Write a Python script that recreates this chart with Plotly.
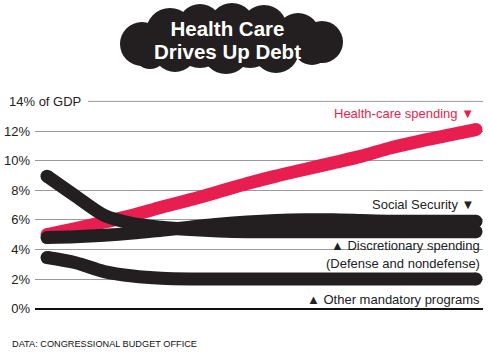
import plotly.graph_objects as go

# ---- data (share of GDP, %) ----
years = [2010, 2015, 2020, 2025, 2030, 2035, 2040, 2045, 2050, 2055,
         2060, 2065, 2070, 2075, 2080, 2085]
health_care = [5.0, 5.4, 5.85, 6.3, 6.85, 7.35, 7.9, 8.45, 8.95, 9.4,
               9.85, 10.3, 10.85, 11.3, 11.7, 12.1]
social_security = [4.8, 4.85, 4.95, 5.1, 5.3, 5.5, 5.7, 5.85, 5.95, 6.0,
                   6.0, 5.95, 5.9, 5.9, 5.9, 5.9]
discretionary = [8.95, 7.6, 6.3, 5.75, 5.5, 5.35, 5.25, 5.2, 5.2, 5.2,
                 5.2, 5.2, 5.2, 5.2, 5.2, 5.2]
other_mandatory = [3.45, 3.1, 2.5, 2.2, 2.05, 2.0, 2.0, 2.0, 2.0, 2.0,
                   2.0, 2.0, 2.0, 2.0, 2.0, 2.0]
y_ticks = [0, 2, 4, 6, 8, 10, 12]
y_tick_labels = ["0%", "2%", "4%", "6%", "8%", "10%", "12%"]

RED = "#e81e50"
BLACK = "#231f20"
FONT = "Liberation Sans, Arial, sans-serif"

W, H = 488, 362
L, R, T, B = 35, 5, 94, 46
PW, PH = W - L - R, H - T - B


def fx(px):
    return (px - L) / PW


def fy(py):
    return (H - B - py) / PH


fig = go.Figure()
LW = 13
series = [
    (health_care, RED),
    (social_security, BLACK),
    (discretionary, BLACK),
    (other_mandatory, BLACK),
]
for vals, col in series:
    fig.add_trace(go.Scatter(
        x=years, y=vals, mode="lines",
        line=dict(color=col, width=LW, shape="spline", smoothing=0.8),
        hoverinfo="skip", showlegend=False,
    ))
    # round end caps
    fig.add_trace(go.Scatter(
        x=[years[0], years[-1]], y=[vals[0], vals[-1]], mode="markers",
        marker=dict(color=col, size=LW, opacity=1, line=dict(width=0, color=col)),
        hoverinfo="skip", showlegend=False,
    ))

shapes = []
# 14% gridline starting after its label
shapes.append(dict(type="line", xref="paper", yref="y", x0=fx(88), x1=1,
                   y0=14, y1=14, line=dict(color="#9a9a9a", width=1)))

# cloud behind the title
circles = [(142, 44, 22), (170, 32, 24), (200, 26, 22), (232, 26, 23), (264, 28, 23),
           (298, 35, 22), (322, 42, 21), (175, 50, 22), (226, 50, 24),
           (276, 50, 23), (312, 46, 19), (150, 52, 17), (200, 42, 26),
           (250, 42, 26)]
for cx, cy, r in circles:
    shapes.append(dict(type="circle", xref="paper", yref="paper",
                       x0=fx(cx - r), x1=fx(cx + r), y0=fy(cy + r), y1=fy(cy - r),
                       fillcolor=BLACK, line=dict(width=0), layer="above"))

annotations = [
    dict(text="<b><span style='font-size:20.5px'>Health Care</span></b><br>"
              "<b><span style='font-size:20.5px'>Drives Up Debt</span></b>",
         x=fx(227), y=fy(40), xref="paper", yref="paper",
         showarrow=False, font=dict(family=FONT, size=17.8, color="white"),
         xanchor="center", yanchor="middle", align="center"),
    dict(text="14% of GDP", x=fx(7), y=14, xref="paper", yref="y",
         showarrow=False, font=dict(family=FONT, size=13, color="#222"),
         xanchor="left", yanchor="middle"),
    dict(text="Health-care spending ▼", x=fx(476), y=fy(113), xref="paper", yref="paper",
         showarrow=False, font=dict(family=FONT, size=13, color=RED),
         xanchor="right", yanchor="middle"),
    dict(text="Social Security ▼", x=fx(476), y=fy(204), xref="paper", yref="paper",
         showarrow=False, font=dict(family=FONT, size=13, color="#222"),
         xanchor="right", yanchor="middle"),
    dict(text="▲ Discretionary spending", x=fx(482), y=fy(245), xref="paper", yref="paper",
         showarrow=False, font=dict(family=FONT, size=13, color="#222"),
         xanchor="right", yanchor="middle"),
    dict(text="(Defense and nondefense)", x=fx(482), y=fy(263), xref="paper", yref="paper",
         showarrow=False, font=dict(family=FONT, size=13, color="#222"),
         xanchor="right", yanchor="middle"),
    dict(text="▲ Other mandatory programs", x=fx(482), y=fy(299), xref="paper", yref="paper",
         showarrow=False, font=dict(family=FONT, size=13, color="#222"),
         xanchor="right", yanchor="middle"),
    dict(text="DATA: CONGRESSIONAL BUDGET OFFICE", x=fx(10), y=fy(344),
         xref="paper", yref="paper", showarrow=False,
         font=dict(family=FONT, size=9.2, color="#111"),
         xanchor="left", yanchor="middle"),
]

fig.update_layout(
    width=W, height=H,
    margin=dict(l=L, r=R, t=T, b=B, pad=0),
    paper_bgcolor="white", plot_bgcolor="white",
    shapes=shapes, annotations=annotations,
    xaxis=dict(range=[2007.9, 2086.22], visible=False, fixedrange=True),
    yaxis=dict(range=[-0.5, 14.5], tickvals=y_ticks, ticktext=y_tick_labels,
               showgrid=True, gridcolor="#9a9a9a", gridwidth=1,
               zeroline=True, zerolinecolor="#111", zerolinewidth=1.5,
               ticks="", ticklabelstandoff=4, showline=False, fixedrange=True,
               tickfont=dict(family=FONT, size=13, color="#222")),
    font=dict(family=FONT),
)

fig.write_html("out.html", config={"displayModeBar": False},
               post_script="document.body.style.margin='0';document.body.style.overflow='hidden';")
